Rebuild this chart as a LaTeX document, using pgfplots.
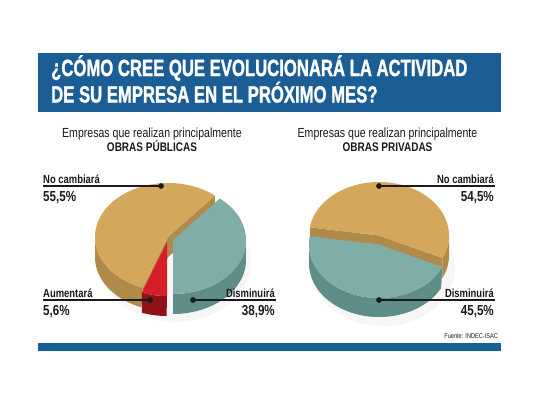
\documentclass[border=0pt]{standalone}
\usepackage{fontspec}
\setmainfont{Liberation Sans}[FakeStretch=0.8]
\newfontfamily\titlefont{Liberation Sans Bold}[FakeStretch=0.71,FakeBold=1.2]
\usepackage{pgfplots}
\pgfplotsset{compat=1.18}
\definecolor{banner}{HTML}{1B5E96}
\definecolor{barblue}{HTML}{15619A}
\definecolor{tantop}{HTML}{D4A85C}
\definecolor{tanside}{HTML}{B08A48}
\definecolor{tealtop}{HTML}{7FAEA8}
\definecolor{tealside}{HTML}{5F8E89}
\definecolor{redtop}{HTML}{D71E28}
\definecolor{redside}{HTML}{8F1218}
\definecolor{txt}{HTML}{1A1A1A}
% data (percent)
\def\LNoCamb{55.5}\def\LDism{38.9}\def\LAum{5.6}
\def\RNoCamb{54.5}\def\RDism{45.5}
% slice pieces: top face, rim side, radial cut face
\newcommand{\pietop}[7]{\addplot[fill=#7,draw=none,domain=#5:#6,samples=72,variable=\t]({#1+#3*cos(\t)},{#2-#4*sin(\t)}) -- (axis cs:#1,#2) -- cycle;}
\newcommand{\pieside}[8]{\addplot[fill=#8,draw=none,domain=0:2,samples=121,variable=\u]({#1+#3*cos((#6)+((#7)-(#6))*(1-abs(1-\u)))},{#2-#4*sin((#6)+((#7)-(#6))*(1-abs(1-\u)))+#5*(\u>1.001)}) -- cycle;}
\newcommand{\piecut}[7]{\addplot[fill=#7,draw=none,samples at={0,1,2,3},variable=\u]({#1+#3*cos(#6)*(\u>0.5)*(\u<2.5)},{#2-#4*sin(#6)*(\u>0.5)*(\u<2.5)+#5*(\u>1.5)}) -- cycle;}
\newcommand{\lab}{\fontsize{11.8bp}{12bp}\selectfont\bfseries}
\newcommand{\pct}{\fontsize{14.5bp}{15bp}\selectfont\bfseries}
\newcommand{\ttl}{\titlefont\fontsize{23.5bp}{24bp}\selectfont}
\begin{document}
\begin{tikzpicture}
\pgfmathsetmacro\La{-90}
\pgfmathsetmacro\Lb{-90+3.6*\LDism}
\pgfmathsetmacro\Lc{\Lb+3.6*\LNoCamb}
\pgfmathsetmacro\Ld{\Lc+3.6*\LAum}
\pgfmathsetmacro\Ra{-25}
\pgfmathsetmacro\Rb{-25+3.6*\RNoCamb}
\pgfmathsetmacro\Rc{\Rb+3.6*\RDism}
\begin{axis}[width=540bp,height=405bp,scale only axis,
  xmin=0,xmax=540,ymin=0,ymax=405,y dir=reverse,hide axis,clip=false]
% background
\addplot[fill=white,draw=none] coordinates {(0,0) (540,0) (540,405) (0,405)} -- cycle;
% banner
\addplot[fill=banner,draw=none] coordinates {(38,53) (501,53) (501,112) (38,112)} -- cycle;
\node[anchor=base west,inner sep=0,text=white,align=left,font=\ttl] at (axis cs:51,102.5) {¿CÓMO CREE QUE EVOLUCIONARÁ LA ACTIVIDAD\\DE SU EMPRESA EN EL PRÓXIMO MES?};
% subtitles
\node[anchor=base,inner sep=0,text=txt,font=\fontsize{13.2bp}{14bp}\selectfont] at (axis cs:152,137) {Empresas que realizan principalmente};
\node[anchor=base,inner sep=0,text=txt,font=\fontsize{12.5bp}{14bp}\selectfont\bfseries] at (axis cs:152,151.5) {OBRAS PÚBLICAS};
\node[anchor=base,inner sep=0,text=txt,font=\fontsize{13.2bp}{14bp}\selectfont] at (axis cs:387.5,137) {Empresas que realizan principalmente};
\node[anchor=base,inner sep=0,text=txt,font=\fontsize{12.5bp}{14bp}\selectfont\bfseries] at (axis cs:387.5,151.5) {OBRAS PRIVADAS};
% shadows
\addplot[fill=black,fill opacity=0.035,draw=none,domain=0:360,samples=72,variable=\t]({175+76*cos(\t)},{262-60*sin(\t)}) -- cycle;
\addplot[fill=black,fill opacity=0.035,draw=none,domain=0:360,samples=72,variable=\t]({383+72*cos(\t)},{268-58*sin(\t)}) -- cycle;
% ---- left pie: tan (No cambiara), red (Aumentara), teal (Disminuira)
\pieside{168}{237}{73}{54}{20}{180}{\Lc}{tanside}
\piecut{168}{237}{73}{54}{20}{\Lc}{tanside}
\piecut{168}{237}{73}{54}{20}{\Lb}{tanside}
\pietop{168}{237}{73}{54}{\Lb}{\Lc}{tantop}
\pieside{167}{242}{73}{54}{20}{\Lc}{\Ld}{redside}
\pietop{167}{242}{73}{54}{\Lc}{\Ld}{redtop}
\pieside{173}{240}{73}{54}{20}{\La}{0}{tealside}
\pietop{173}{240}{73}{54}{\La}{\Lb}{tealtop}
% ---- right pie: tan (No cambiara), teal (Disminuira)
\pieside{379}{235.5}{70}{53.5}{20}{\Ra}{0}{tanside}
\piecut{379}{235.5}{70}{53.5}{20}{\Ra}{tanside}
\piecut{379}{235.5}{70}{53.5}{20}{\Rb}{tanside}
\pietop{379}{235.5}{70}{53.5}{\Ra}{\Rb}{tantop}
\pieside{379}{244.5}{70}{53.5}{19}{180}{\Rc}{tealside}
\pietop{379}{244.5}{70}{53.5}{\Rb}{\Rc}{tealtop}
% leader lines
\addplot[line width=1.4bp,color=txt] coordinates {(43,186) (161,186)};
\addplot[line width=1.4bp,color=txt] coordinates {(43,300) (150,300)};
\addplot[line width=1.4bp,color=txt] coordinates {(193,300) (276,300)};
\addplot[line width=1.4bp,color=txt] coordinates {(379,186) (495,186)};
\addplot[line width=1.4bp,color=txt] coordinates {(379,300) (495,300)};
\addplot[only marks,mark=*,mark size=2.6bp,color=txt] coordinates {(161,186) (150,300) (193,300) (379,186) (379,300)};
% labels
\node[anchor=base west,inner sep=0,text=txt,font=\lab] at (axis cs:43,183) {No cambiará};
\node[anchor=base west,inner sep=0,text=txt,font=\pct] at (axis cs:43,201) {55,5\%};
\node[anchor=base west,inner sep=0,text=txt,font=\lab] at (axis cs:43,297) {Aumentará};
\node[anchor=base west,inner sep=0,text=txt,font=\pct] at (axis cs:43,315) {5,6\%};
\node[anchor=base east,inner sep=0,text=txt,font=\lab] at (axis cs:275,297) {Disminuirá};
\node[anchor=base east,inner sep=0,text=txt,font=\pct] at (axis cs:275,315) {38,9\%};
\node[anchor=base east,inner sep=0,text=txt,font=\lab] at (axis cs:494,183) {No cambiará};
\node[anchor=base east,inner sep=0,text=txt,font=\pct] at (axis cs:494,201) {54,5\%};
\node[anchor=base east,inner sep=0,text=txt,font=\lab] at (axis cs:494,297) {Disminuirá};
\node[anchor=base east,inner sep=0,text=txt,font=\pct] at (axis cs:494,315) {45,5\%};
% source and bottom bar
\node[anchor=base east,inner sep=0,text=txt,font=\fontsize{7bp}{8bp}\selectfont] at (axis cs:498,338.5) {Fuente: INDEC-ISAC};
\addplot[fill=barblue,draw=none] coordinates {(38,343) (501,343) (501,351) (38,351)} -- cycle;
\end{axis}
\end{tikzpicture}
\end{document}
